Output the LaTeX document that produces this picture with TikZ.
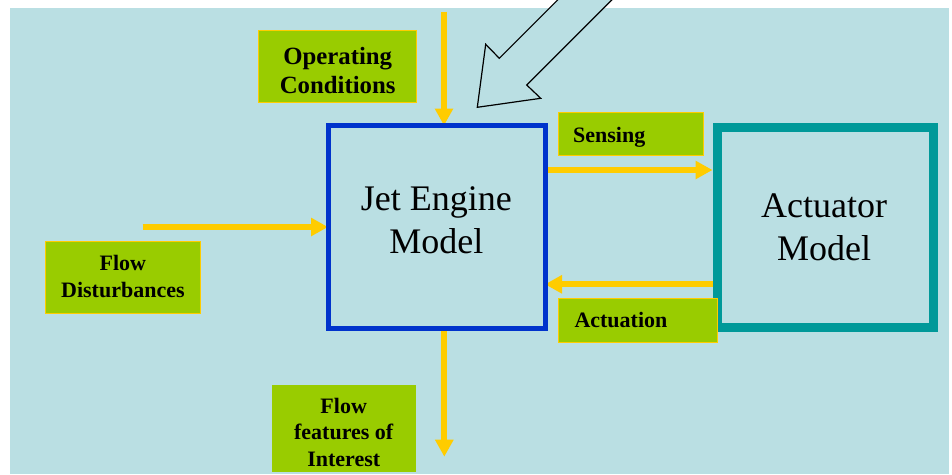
\documentclass[tikz,border=0pt]{standalone}
\usepackage{fontspec}
\setmainfont{Liberation Serif}
\usetikzlibrary{arrows.meta}
\definecolor{bgblue}{HTML}{BADFE3}
\definecolor{lblgreen}{HTML}{99CC00}
\definecolor{arrowyellow}{HTML}{FFCC00}
\definecolor{jetblue}{HTML}{0033CC}
\definecolor{actteal}{HTML}{009999}
\begin{document}
\begin{tikzpicture}[x=1pt,y=-1pt,
  modelbox/.style={draw, fill=none, inner sep=0pt},
  lblbox/.style={fill=lblgreen, draw=arrowyellow, line width=1pt, inner sep=0pt, outer sep=0pt},
  lbltext/.style={font=\bfseries\fontsize{22}{26.4}\selectfont, align=center, inner sep=0pt},
  modeltext/.style={font=\fontsize{36}{43}\selectfont, align=center, inner sep=0pt},
  yarrow/.style={draw=arrowyellow, line width=6pt, -{Triangle[length=17pt,width=17.5pt]}}
]
\useasboundingbox (0,0) rectangle (952,474);
\clip (0,0) rectangle (952,474);
\fill[white] (0,0) rectangle (952,474);
\fill[bgblue] (10,8) rectangle (949,474);

% big hollow arrow
\draw[black, line width=1.2pt, fill=bgblue, line join=miter]
  (477.3,107.3) -- (540.7,98.3) -- (526.7,85) -- (621.7,-10) -- (567.6,-10)
  -- (499.3,58.3) -- (485.7,44.3) -- cycle;

% model boxes (for anchors)
\node[modelbox, draw=jetblue, line width=5pt, outer sep=0pt, minimum width=217pt, minimum height=203pt] (jet) at (436.5,227) {};
\node[modelbox, draw=actteal, line width=9pt, minimum width=216pt, minimum height=200.5pt] (act) at (825,227.25) {};

% arrows
\coordinate (topin) at (444,11.7);
\draw[yarrow] (topin) -- (topin |- jet.north);
\coordinate (leftin) at (142.7,227);
\draw[yarrow] (leftin) -- (jet.west);
\coordinate (sensy) at (0,170);
\draw[yarrow] (jet.east |- sensy) -- (act.west |- sensy);
\coordinate (actny) at (0,284.3);
\draw[yarrow] (act.west |- actny) -- (jet.east |- actny);
\coordinate (botend) at (444.3,456.7);
\draw[yarrow] (botend |- jet.south) -- (botend);

% redraw box borders over arrow tips
\draw[jetblue, line width=5pt] (jet.north west) rectangle (jet.south east);

% model texts
\node[modeltext] (jettext) at (436.3,220.5) {Jet Engine\\Model};
\node[modeltext] (acttext) at (824,227) {Actuator\\Model};

% labels
\node[lblbox, minimum width=158.4pt, minimum height=72.3pt] (opbox) at (337.5,66.2) {};
\node[lbltext, font=\bfseries\fontsize{24.8}{29}\selectfont] (optext) at (337.7,70.6) {Operating\\Conditions};

\node[lblbox, minimum width=144.7pt, minimum height=43pt] (sensbox) at (630.7,133.8) {};
\node[lbltext, anchor=base west] (senstext) at (573,142.7) {Sensing};

\node[lblbox, minimum width=159pt, minimum height=44pt] (actnbox) at (637.8,320.3) {};
\node[lbltext, anchor=base west] (actntext) at (574.3,327.7) {Actuation};

\node[lblbox, minimum width=154.3pt, minimum height=71.6pt] (fdbox) at (122.85,277.5) {};
\node[lbltext] (fdtext) at (122.9,276.6) {Flow\\Disturbances};

\node[lblbox, draw=none, minimum width=143.7pt, minimum height=86.7pt] (ffbox) at (343.85,428.35) {};
\node[lbltext] (fftext) at (343.7,432.1) {Flow\\features of\\Interest};
\end{tikzpicture}
\end{document}
